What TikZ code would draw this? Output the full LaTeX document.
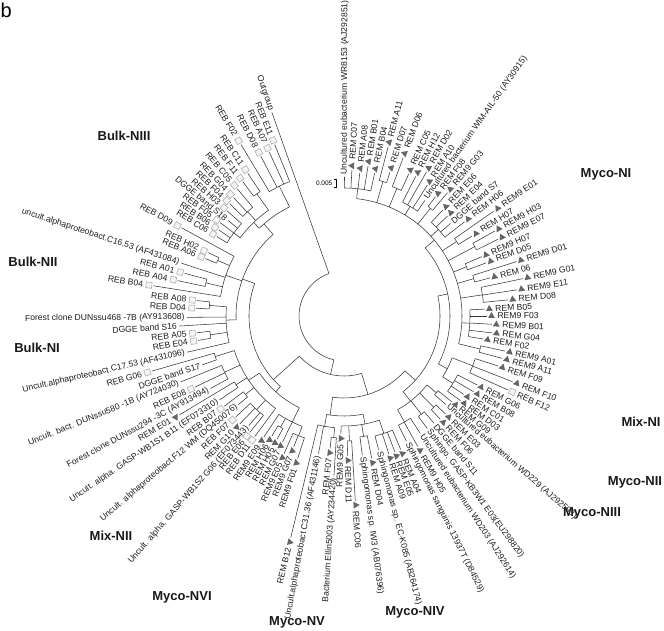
\documentclass[tikz,border=0pt]{standalone}
\usepackage{fontspec}
\setmainfont{Liberation Sans}
\usetikzlibrary{shapes.geometric}
\tikzset{
 br/.style={line width=0.55pt, draw=black!78},
 lbl/.style={font=\fontsize{8.6}{10}\selectfont, inner sep=0.3pt, text=black!88},
 tri/.style={regular polygon, regular polygon sides=3, minimum size=8pt, inner sep=0pt, fill=black!60, draw=none},
 sqb/.style={rectangle, minimum size=5.8pt, inner sep=0pt, draw=black!28, line width=0.7pt, fill=black!4},
 grplbl/.style={font=\fontsize{13}{15}\selectfont\bfseries, inner sep=0pt, text=black!90},
}
% #1 name, #2 stem angle, #3 arc start, #4 arc end, #5 parent radius, #6 radius
\newcommand\tgrp[6]{%
  \coordinate (g#1a) at ({#2}:{#5});
  \coordinate (g#1b) at ({#2}:{#6});
  \coordinate (g#1s) at ({#3}:{#6});
  \draw[br] (g#1a) -- (g#1b);
  \draw[br] (g#1s) arc[start angle={#3}, end angle={#4}, radius=#6pt];
}
% #1 name, #2 angle, #3 attach radius, #4 tip radius, #5 type (0 ref,1 REM,2 REB), #6 label
\newcommand\tleaf[6]{%
  \coordinate (b#1) at ({#2}:{#3});
  \coordinate (t#1) at ({#2}:{#4});
  \draw[br] (b#1) -- (t#1);
  \pgfmathsetmacro\mycos{cos(#2)}%
  \ifnum#5=0 \def\myoff{2}\else\def\myoff{10}\fi
  \ifnum#5=1 \node[tri, rotate={#2}] (s#1) at ({#2}:{#4+4.5}) {};\fi
  \ifnum#5=2 \node[sqb, rotate={#2}] (s#1) at ({#2}:{#4+4.5}) {};\fi
  \ifdim\mycos pt<0pt
    \node[lbl, rotate={#2-180}, anchor=east] (l#1) at ({#2}:{#4+\myoff}) {#6};
  \else
    \node[lbl, rotate={#2}, anchor=west] (l#1) at ({#2}:{#4+\myoff}) {#6};
  \fi
}
\begin{document}
\begin{tikzpicture}[x=1pt,y=1pt]
\useasboundingbox (0,0) rectangle (664,631);
\fill[white] (0,0) rectangle (664,631);

\node[font=\fontsize{20}{22}\selectfont, inner sep=0pt, anchor=base west] (fig) at (0.5,613) {b};

\node[grplbl] (gBIII) at (124,495) {Bulk-NIII};
\node[grplbl] (gBII) at (33,369) {Bulk-NII};
\node[grplbl] (gBI) at (37,283) {Bulk-NI};
\node[grplbl] (gMII) at (111,95) {Mix-NII};
\node[grplbl] (gMVI) at (182,34) {Myco-NVI};
\node[grplbl] (gMV) at (297,9) {Myco-NV};
\node[grplbl] (gMIV) at (415,19) {Myco-NIV};
\node[grplbl] (gMIII) at (592,118) {Myco-NIII};
\node[grplbl] (gMNII) at (635,149) {Myco-NII};
\node[grplbl] (gMNI) at (641,209) {Mix-NI};
\node[grplbl] (gMyNI) at (606,457) {Myco-NI};

% scale bar
\node[font=\fontsize{6.5}{7}\selectfont, inner sep=0pt, anchor=east] (sbt) at (332.5,448) {0.005};
\coordinate (sb1) at (333.5,452);
\coordinate (sb2) at (336.5,452);
\coordinate (sb3) at (336.5,444);
\coordinate (sb4) at (333.5,444);
\draw[line width=0.5pt] (sb1) -- (sb2) -- (sb3) -- (sb4);

\begin{scope}[shift={(344,315)}]
% root
\coordinate (root) at (109.5:45);
\draw[br] (root) arc[start angle=109.5, end angle=257, radius=45pt];
\tleaf{og}{109.5}{45}{216}{0}{Outgroup}
\tgrp{I}{257}{222}{287}{45}{60}
\tgrp{L}{222}{160}{228}{60}{95}

% Bulk
\tgrp{bulk}{160}{131}{182}{95}{108}
\tgrp{b3}{131}{116.5}{134}{108}{122}
\tgrp{b3a}{116.5}{112}{121}{122}{145}
\tleaf{e11}{112}{145}{185}{2}{REB E11}
\tleaf{a07}{114.5}{145}{180}{2}{REB A07}
\tleaf{d08}{117.5}{145}{180}{2}{REB D08}
\tleaf{f02}{121}{145}{200}{2}{REB F02}
\tgrp{b3b}{134}{125.5}{143}{122}{130}
\tgrp{b3b1}{125.5}{124}{127}{130}{150}
\tleaf{c11}{124}{150}{172}{2}{REB C11}
\tleaf{f11}{127}{150}{168}{2}{REB F11}
\tgrp{b3b2}{132.75}{130}{135.5}{130}{142}
\tleaf{c05}{130}{142}{166}{2}{REB C05}
\tleaf{g04b}{133}{142}{162}{2}{REB G04}
\tleaf{f04}{135.5}{142}{160}{2}{REB F04}
\tgrp{b3b3}{143}{138}{148}{130}{138}
\tleaf{h03}{138}{138}{157}{2}{REB H03}
\tleaf{s18}{140.5}{138}{150}{0}{DGGE band S18}
\tleaf{f05}{143}{138}{155}{2}{REB F05}
\tleaf{b06}{145.5}{138}{152}{2}{REB B06}
\tleaf{c06b}{148}{138}{150}{2}{REB C06}

\tgrp{b2}{161}{151.5}{171}{108}{125}
\tleaf{d09}{151.5}{125}{185}{2}{REB D09}
\tgrp{b2a}{156.25}{155}{157.5}{125}{138}
\tleaf{h02}{155}{138}{150}{2}{REB H02}
\tleaf{a06}{157.5}{138}{150}{2}{REB A06}
\tleaf{c1653}{162}{125}{171}{0}{uncult.alphaproteobact.C16.53 (AF431084)}
\tgrp{b2b}{166.5}{165}{168}{125}{142}
\tleaf{a01}{165}{142}{165}{2}{REB A01}
\tleaf{a04b}{168}{142}{170}{2}{REB A04}
\tleaf{b04b}{171}{125}{193}{2}{REB B04}

\tgrp{b1}{182}{175.5}{193}{108}{118}
\tgrp{b1a}{175.5}{174}{177}{118}{135}
\tleaf{a08b}{174}{135}{148}{2}{REB A08}
\tleaf{d04b}{177}{135}{148}{2}{REB D04}
\tleaf{d468}{180.5}{118}{157}{0}{Forest clone DUNssu468 -7B (AY913608)}
\tleaf{s16}{183.5}{118}{165}{0}{DGGE band S16}
\tgrp{b1b}{188}{186.5}{189.5}{118}{135}
\tleaf{a05}{186.5}{135}{148}{2}{REB A05}
\tleaf{e04b}{189.5}{135}{148}{2}{REB E04}
\tleaf{c1753}{193}{118}{161}{0}{Uncult.alphaproteobact.C17.53 (AF431096)}

% Mix-NII and Myco-NVI
\tgrp{mix}{228}{214}{244}{95}{102}
\tgrp{mx2}{214}{197.5}{233.5}{102}{115}
\tgrp{p1}{197.5}{196}{199}{115}{135}
\tleaf{g06b}{196}{135}{200}{2}{REB G06}
\tleaf{s17}{199}{135}{150}{0}{DGGE band S17}
\tgrp{p2}{205.25}{202}{208.5}{115}{132}
\tleaf{d580}{202}{132}{176}{0}{Uncult. bact. DUNssu580 -1B (AY724030)}
\tleaf{e08b}{205.5}{132}{165}{2}{REB E08}
\tleaf{d294}{208.5}{132}{152}{0}{Forest clone DUNssu294 -3C (AY913494)}
\tgrp{p3}{212.5}{211}{214}{115}{128}
\tleaf{e01m}{211}{128}{192}{1}{REM E01}
\tleaf{wb1}{214}{128}{150}{0}{Uncult. alpha. GASP-WB1S1 B11 (EF073310)}
\tgrp{p4}{218.5}{217}{220}{115}{126}
\tleaf{b07b}{217}{126}{150}{2}{REB B07}
\tleaf{f12wm}{220}{126}{138}{0}{Uncult. alphaproteobact.F12 WM (DQ450076)}
\tgrp{p5}{227}{223}{231}{115}{128}
\tleaf{f07b}{223}{128}{148}{2}{REB F07}
\tleaf{g10m}{226}{128}{150}{1}{REM G10}
\tleaf{wb2}{229}{128}{145}{0}{Uncult. alpha. GASP-WB1S2 G06 (EF073443)}
\tleaf{e06b}{231}{128}{150}{2}{REB E06}
\tleaf{d11b}{233.5}{115}{150}{2}{REB D11}

\tgrp{nvi}{244}{236.5}{249.25}{102}{118}
\tleaf{e09m}{236.5}{118}{145}{1}{REM9 E09}
\tgrp{q1}{240.25}{239}{241.5}{118}{128}
\tleaf{h06m}{239}{128}{140}{1}{REM H06}
\tleaf{h05m}{241.5}{128}{140}{1}{REM H05}
\tleaf{g07m}{244}{118}{140}{1}{REM G07}
\tgrp{q2}{249.25}{246.5}{252}{118}{128}
\tleaf{e05n}{246.5}{128}{150}{1}{REM9 E05}
\tleaf{g07n}{249}{128}{140}{1}{REM9 G07}
\tleaf{f01n}{252}{128}{150}{1}{REM9 F01}

% right part
\tgrp{R}{287}{262}{318}{60}{82}
\tgrp{nvnvi}{262}{260}{281}{82}{100}
\tgrp{nv}{260}{256.5}{265.2}{100}{112}
\tleaf{b12m}{256.5}{112}{228}{1}{REM B12}
\tleaf{c3136}{259.5}{112}{140}{0}{Uncult.alphaproteobact C31.36 (AF431146)}
\tgrp{n1}{265.2}{264}{266.4}{112}{122}
\tleaf{f07m}{264}{122}{133}{1}{REM F07}
\tleaf{ellin}{266.4}{122}{160}{0}{Bacterium Ellin5003 (AY234420)}

\tgrp{niv}{281}{268.5}{288.75}{100}{110}
\tleaf{g05n}{268.5}{110}{118}{1}{REM9 G05}
\tgrp{m1}{272.5}{271.5}{273.5}{110}{125}
\tleaf{d11m}{271.5}{125}{140}{1}{REM D11}
\tleaf{c06m}{273.5}{125}{185}{1}{REM C06}
\tgrp{m2}{279.25}{277.5}{281}{110}{122}
\tleaf{iw3}{277.5}{122}{140}{0}{Sphingomonas sp. IW3 (AB076396)}
\tleaf{d04m}{281}{122}{145}{1}{REM D04}
\tgrp{m3}{288.75}{284.5}{293}{110}{124}
\tleaf{eck}{284.5}{124}{138}{0}{Sphingomonas sp. EC-K085 (AB264174)}
\tleaf{a09m}{288}{124}{145}{1}{REM A09}
\tleaf{e05m}{290.5}{124}{145}{1}{REM E05}
\tleaf{a04m}{293}{124}{145}{1}{REM A04}

\tgrp{rest}{318}{308}{372}{82}{96}
\tgrp{n3}{308}{299.75}{320.25}{96}{108}
\tgrp{k1}{299.75}{296.5}{303}{108}{122}
\tleaf{sang}{296.5}{122}{140}{0}{Sphingomonas sanguinis 13937T (D84529)}
\tleaf{h05r}{299.5}{122}{150}{1}{REM9 H05}
\tleaf{wd203}{303}{122}{140}{0}{Uncultured eubacterium WD203 (AJ292614)}
\tgrp{k2}{308.25}{306.5}{310}{108}{125}
\tleaf{kb3}{306.5}{125}{140}{0}{Sphingo. GASP-KB3W1 E03(EU298820)}
\tleaf{s11}{310}{125}{140}{0}{DGGE band S11}
\tgrp{k3}{314.5}{313}{316}{108}{128}
\tleaf{f06m}{313}{128}{141}{1}{REM F06}
\tleaf{e03m}{316}{128}{141}{1}{REM E03}
\tgrp{k4}{320.25}{319}{321.5}{108}{120}
\tleaf{wd229}{319}{120}{135}{0}{Uncultured eubacterium WD229 (AJ292593)}
\tleaf{g09m}{321.5}{120}{138}{1}{REM G09}

\tgrp{up}{372}{333}{400}{96}{106}
\tgrp{n2}{333}{328.3}{338.85}{106}{116}
\tgrp{h1}{328.3}{324}{332.6}{116}{128}
\tleaf{d03m}{324}{128}{144}{1}{REM D03}
\tleaf{c01m}{326.8}{128}{143}{1}{REM C01}
\tleaf{b08m}{329.7}{128}{150}{1}{REM B08}
\tleaf{g06m}{332.6}{128}{150}{1}{REM G06}
\tgrp{h2}{338.85}{335.7}{342}{116}{138}
\tleaf{f12b}{335.7}{138}{180}{2}{REB F12}
\tleaf{f10m}{338.7}{138}{181}{1}{REM F10}
\tleaf{f09m}{342}{138}{162}{1}{REM F09}

% Myco-NI
\tgrp{nIc}{400}{346.35}{443.85}{106}{118}
\tgrp{g1}{346.35}{345}{347.7}{118}{140}
\tleaf{a11r}{345}{140}{164}{1}{REM9 A11}
\tleaf{a01r}{347.7}{140}{165}{1}{REM9 A01}
\tgrp{g2}{356.7}{350.6}{362.8}{118}{126}
\tleaf{f02m}{350.6}{126}{141}{1}{REM F02}
\tleaf{g04m}{353.5}{126}{149}{1}{REM G04}
\tleaf{b01r}{356.8}{126}{148}{1}{REM9 B01}
\tleaf{f03r}{360}{126}{143}{1}{REM9 F03}
\tleaf{b05m}{362.8}{126}{141}{1}{REM B05}
\tgrp{g3}{368.7}{365.6}{371.8}{118}{140}
\tleaf{d08m}{365.6}{140}{165}{1}{REM D08}
\tleaf{e11r}{368.6}{140}{175}{1}{REM9 E11}
\tleaf{g01r}{371.8}{140}{183}{1}{REM9 G01}
\tgrp{g4}{376.05}{374.6}{377.5}{118}{135}
\tleaf{m06}{374.6}{135}{151}{1}{REM 06}
\tleaf{d01r}{377.5}{135}{181}{1}{REM9 D01}
\tgrp{g5}{381.9}{380.5}{383.3}{118}{132}
\tleaf{d05m}{380.5}{132}{152}{1}{REM D05}
\tleaf{h07r}{383.3}{132}{150}{1}{REM9 H07}
\tgrp{g6}{387.95}{386.5}{389.4}{118}{148}
\tleaf{e07r}{386.5}{148}{172}{1}{REM9 E07}
\tleaf{h03r}{389.4}{148}{173}{1}{REM9 H03}
\tgrp{g7}{393.5}{392}{395}{118}{135}
\tleaf{h07m}{392}{135}{151}{1}{REM H07}
\tleaf{e01r}{395}{135}{183}{1}{REM9 E01}
\tgrp{g8}{402.5}{398}{407}{118}{128}
\tleaf{h06mm}{398}{128}{153}{1}{REM H06}
\tleaf{s7}{401}{128}{141}{0}{DGGE band S7}
\tleaf{e04m}{404}{128}{144}{1}{REM E04}
\tleaf{e06m}{407}{128}{145}{1}{REM E06}
\tgrp{g9}{411.25}{410}{412.5}{118}{138}
\tleaf{g03r}{410}{138}{161}{1}{REM9 G03}
\tleaf{f08m}{412.5}{138}{150}{1}{REM F08}
\tgrp{g10}{418.9}{415}{422.8}{118}{128}
\tleaf{wim}{415}{128}{141}{0}{Uncultured bacterium WIM-AIL-50 (AY30915)}
\tleaf{a10m}{417.5}{128}{155}{1}{REM A10}
\tleaf{d02m}{420.2}{128}{166}{1}{REM D02}
\tleaf{h12m}{422.8}{128}{157}{1}{REM H12}
\tgrp{g11}{427.5}{425.5}{429.5}{118}{138}
\tleaf{c05m}{425.5}{138}{156}{1}{REM C05}
\tleaf{d06m}{429.5}{138}{169}{1}{REM D06}
\tgrp{g12}{433.85}{432.3}{435.4}{118}{140}
\tleaf{d07m}{432.3}{140}{151}{1}{REM D07}
\tleaf{a11m}{435.4}{140}{175}{1}{REM A11}
\tgrp{g13}{443.85}{437.9}{449.8}{118}{128}
\tleaf{b04m}{437.9}{128}{146}{1}{REM B04}
\tleaf{b01m}{440.9}{128}{152}{1}{REM B01}
\tleaf{a08m}{443.7}{128}{144}{1}{REM A08}
\tleaf{c07m}{446.9}{128}{146}{1}{REM C07}
\tleaf{wr}{449.8}{128}{139}{0}{Uncultured eubacterium WR8153 (AJ292851)}
\end{scope}
\end{tikzpicture}
\end{document}
